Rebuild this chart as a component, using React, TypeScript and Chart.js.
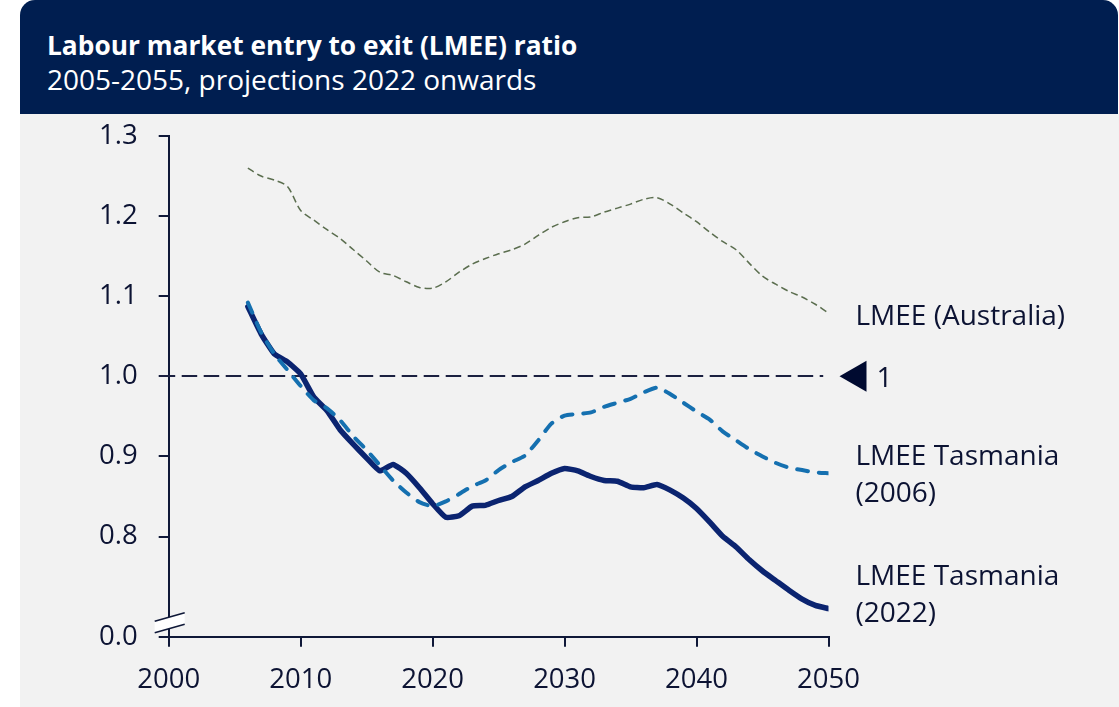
import React, { useEffect, useRef } from "react";
import { Chart, registerables } from "chart.js";

Chart.register(...registerables);

const years = [
  2006, 2007, 2008, 2009, 2010, 2011, 2012, 2013, 2014, 2015, 2016, 2017, 2018, 2019, 2020,
  2021, 2022, 2023, 2024, 2025, 2026, 2027, 2028, 2029, 2030, 2031, 2032, 2033, 2034, 2035,
  2036, 2037, 2038, 2039, 2040, 2041, 2042, 2043, 2044, 2045, 2046, 2047, 2048, 2049, 2050,
];

const lmeeAustralia = [
  1.26, 1.25, 1.245, 1.237, 1.207, 1.195, 1.183, 1.172, 1.158, 1.144, 1.13, 1.126, 1.118, 1.111, 1.11,
  1.118, 1.13, 1.14, 1.147, 1.153, 1.158, 1.165, 1.176, 1.186, 1.193, 1.198, 1.199, 1.205, 1.21, 1.215,
  1.221, 1.223, 1.215, 1.204, 1.193, 1.18, 1.168, 1.158, 1.141, 1.125, 1.115, 1.106, 1.099, 1.09, 1.079,
];

const lmeeTas2006 = [
  1.092, 1.055, 1.028, 1.008, 0.988, 0.97, 0.96, 0.945, 0.925, 0.908, 0.889, 0.87, 0.855, 0.843, 0.838,
  0.844, 0.853, 0.863, 0.87, 0.883, 0.893, 0.901, 0.92, 0.941, 0.951, 0.953, 0.955, 0.962, 0.967, 0.972,
  0.98, 0.986, 0.978, 0.967, 0.956, 0.946, 0.931, 0.92, 0.909, 0.9, 0.892, 0.886, 0.883, 0.88, 0.879,
];

const lmeeTas2022 = [
  1.087, 1.053, 1.028, 1.018, 1.003, 0.974, 0.957, 0.933, 0.915, 0.898, 0.882, 0.89, 0.879, 0.861, 0.841,
  0.824, 0.826, 0.838, 0.839, 0.845, 0.85, 0.862, 0.87, 0.879, 0.885, 0.882, 0.875, 0.87, 0.869, 0.862,
  0.861, 0.865, 0.858, 0.848, 0.835, 0.818, 0.8, 0.787, 0.771, 0.757, 0.745, 0.733, 0.722, 0.714, 0.71,
];

const xTickValues = [2000, 2010, 2020, 2030, 2040, 2050];
const yTickValues = [0.675, 0.8, 0.9, 1.0, 1.1, 1.2, 1.3];
const yTickLabels = ["0.0", "0.8", "0.9", "1.0", "1.1", "1.2", "1.3"];
const referenceValue = 1.0;
const referenceLabel = "1";
const seriesLabels = [["LMEE (Australia)"], ["LMEE Tasmania", "(2006)"], ["LMEE Tasmania", "(2022)"]];

const titleText = "Labour market entry to exit (LMEE) ratio";
const subtitleText = "2005-2055, projections 2022 onwards";

const FONT = "'Open Sans', 'DejaVu Sans', sans-serif";
const TEXT = "#0c1333";
const AXIS = "#0f1838";

const overlayPlugin = {
  id: "overlay",
  beforeDatasetsDraw(chart: any) {
    const { ctx, chartArea, scales } = chart;
    const y = scales.y;
    const x = scales.x;
    const py = Math.round(y.getPixelForValue(referenceValue));
    ctx.save();
    ctx.strokeStyle = "#1b2040";
    ctx.lineWidth = 2;
    ctx.setLineDash([15.5, 6.5]);
    ctx.beginPath();
    ctx.moveTo(chartArea.left - 9, py);
    ctx.lineTo(x.getPixelForValue(2049.6), py);
    ctx.stroke();
    ctx.restore();
  },
  afterDraw(chart: any) {
    const { ctx, chartArea, scales } = chart;
    const y = scales.y;
    const py = y.getPixelForValue(referenceValue);
    const r = chartArea.right;
    ctx.save();
    // triangle marker
    ctx.fillStyle = "#000a30";
    ctx.beginPath();
    ctx.moveTo(r + 11, py);
    ctx.lineTo(r + 38, py - 15.5);
    ctx.lineTo(r + 38, py + 15.5);
    ctx.closePath();
    ctx.fill();
    ctx.font = `28px ${FONT}`;
    ctx.fillStyle = TEXT;
    ctx.textBaseline = "alphabetic";
    ctx.textAlign = "left";
    ctx.fillText(referenceLabel, r + 48, py + 11);

    // series labels
    const t = chartArea.top;
    const lx = r + 27;
    const baselines = [[189], [329, 366], [449, 486]];
    seriesLabels.forEach((lines, i) => {
      lines.forEach((line, j) => {
        ctx.fillText(line, lx, t + baselines[i][j]);
      });
    });

    // axis break
    const l = chartArea.left;
    const b = chartArea.bottom;
    ctx.fillStyle = "#ffffff";
    ctx.beginPath();
    ctx.moveTo(l - 14, b - 15.5);
    ctx.lineTo(l + 16, b - 24);
    ctx.lineTo(l + 16, b - 12.5);
    ctx.lineTo(l - 14, b - 4);
    ctx.closePath();
    ctx.fill();
    ctx.strokeStyle = AXIS;
    ctx.lineWidth = 1.6;
    ctx.beginPath();
    ctx.moveTo(l - 14, b - 15.5);
    ctx.lineTo(l + 16, b - 24);
    ctx.moveTo(l - 14, b - 4);
    ctx.lineTo(l + 16, b - 12.5);
    ctx.stroke();
    ctx.restore();
  },
};

export default function App() {
  const canvasRef = useRef<HTMLCanvasElement | null>(null);

  useEffect(() => {
    if (!canvasRef.current) return;
    const mk = (arr: number[]) => years.map((yr, i) => ({ x: yr, y: arr[i] }));
    const chart = new Chart(canvasRef.current, {
      type: "line",
      data: {
        datasets: [
          {
            label: "LMEE (Australia)",
            data: mk(lmeeAustralia),
            borderColor: "#5b6e4f",
            borderWidth: 1.5,
            borderDash: [7, 4],
            pointRadius: 0,
            tension: 0.3,
            fill: false,
          },
          {
            label: "LMEE Tasmania (2006)",
            data: mk(lmeeTas2006),
            borderColor: "#1570b0",
            borderWidth: 4,
            borderDash: [11, 11],
            borderCapStyle: "round",
            pointRadius: 0,
            tension: 0.2,
            fill: false,
          },
          {
            label: "LMEE Tasmania (2022)",
            data: mk(lmeeTas2022),
            borderColor: "#0b2470",
            borderWidth: 5.5,
            borderJoinStyle: "round",
            borderCapStyle: "round",
            pointRadius: 0,
            tension: 0.15,
            fill: false,
          },
        ],
      },
      options: {
        animation: false,
        responsive: false,
        maintainAspectRatio: false,
        events: [],
        layout: { padding: { left: 20, top: 136, right: 290.5, bottom: 0 } },
        plugins: { legend: { display: false }, tooltip: { enabled: false }, title: { display: false } },
        scales: {
          x: {
            type: "linear",
            min: 2000,
            max: 2050,
            afterBuildTicks: (scale: any) => {
              scale.ticks = xTickValues.map((v) => ({ value: v }));
            },
            afterFit: (scale: any) => {
              scale.height = 70.3;
            },
            ticks: {
              callback: (v: any) => String(v),
              color: TEXT,
              font: { family: FONT, size: 27.5 },
              padding: 17,
              maxRotation: 0,
            },
            grid: { drawOnChartArea: false, drawTicks: true, tickLength: 10, color: AXIS, lineWidth: 2 },
            border: { display: true, color: AXIS, width: 2 },
          },
          y: {
            type: "linear",
            min: 0.675,
            max: 1.3,
            afterBuildTicks: (scale: any) => {
              scale.ticks = yTickValues.map((v) => ({ value: v }));
            },
            afterFit: (scale: any) => {
              scale.width = 148.7;
            },
            ticks: {
              callback: (v: any) => {
                const idx = yTickValues.findIndex((t) => Math.abs(t - v) < 1e-9);
                return idx >= 0 ? yTickLabels[idx] : "";
              },
              color: TEXT,
              font: { family: FONT, size: 27.5 },
              padding: 21,
            },
            grid: { drawOnChartArea: false, drawTicks: true, tickLength: 10, color: AXIS, lineWidth: 2 },
            border: { display: true, color: AXIS, width: 2 },
          },
        },
      },
      plugins: [overlayPlugin],
    } as any);
    return () => chart.destroy();
  }, []);

  return (
    <div style={{ position: "fixed", left: 0, top: 0, width: 1119, height: 707, background: "#ffffff", overflow: "hidden" }}>
      <div style={{ position: "absolute", left: 20, top: 114, width: 1099, height: 593, background: "#f2f2f2" }} />
      <div
        style={{
          position: "absolute",
          left: 20,
          top: 0,
          width: 1098,
          height: 114,
          background: "#001e50",
          borderRadius: "15px 15px 0 0",
        }}
      />
      <div
        style={{
          position: "absolute",
          left: 47,
          top: 32,
          color: "#ffffff",
          fontFamily: FONT,
          fontWeight: 700,
          fontSize: 26.3,
          lineHeight: 1,
          whiteSpace: "nowrap",
        }}
      >
        {titleText}
      </div>
      <div
        style={{
          position: "absolute",
          left: 47,
          top: 65,
          color: "#ffffff",
          fontFamily: FONT,
          fontSize: 28,
          lineHeight: 1,
          whiteSpace: "nowrap",
        }}
      >
        {subtitleText}
      </div>
      <canvas ref={canvasRef} width={1119} height={707} style={{ position: "absolute", left: 0, top: 0, width: 1119, height: 707 }} />
    </div>
  );
}
